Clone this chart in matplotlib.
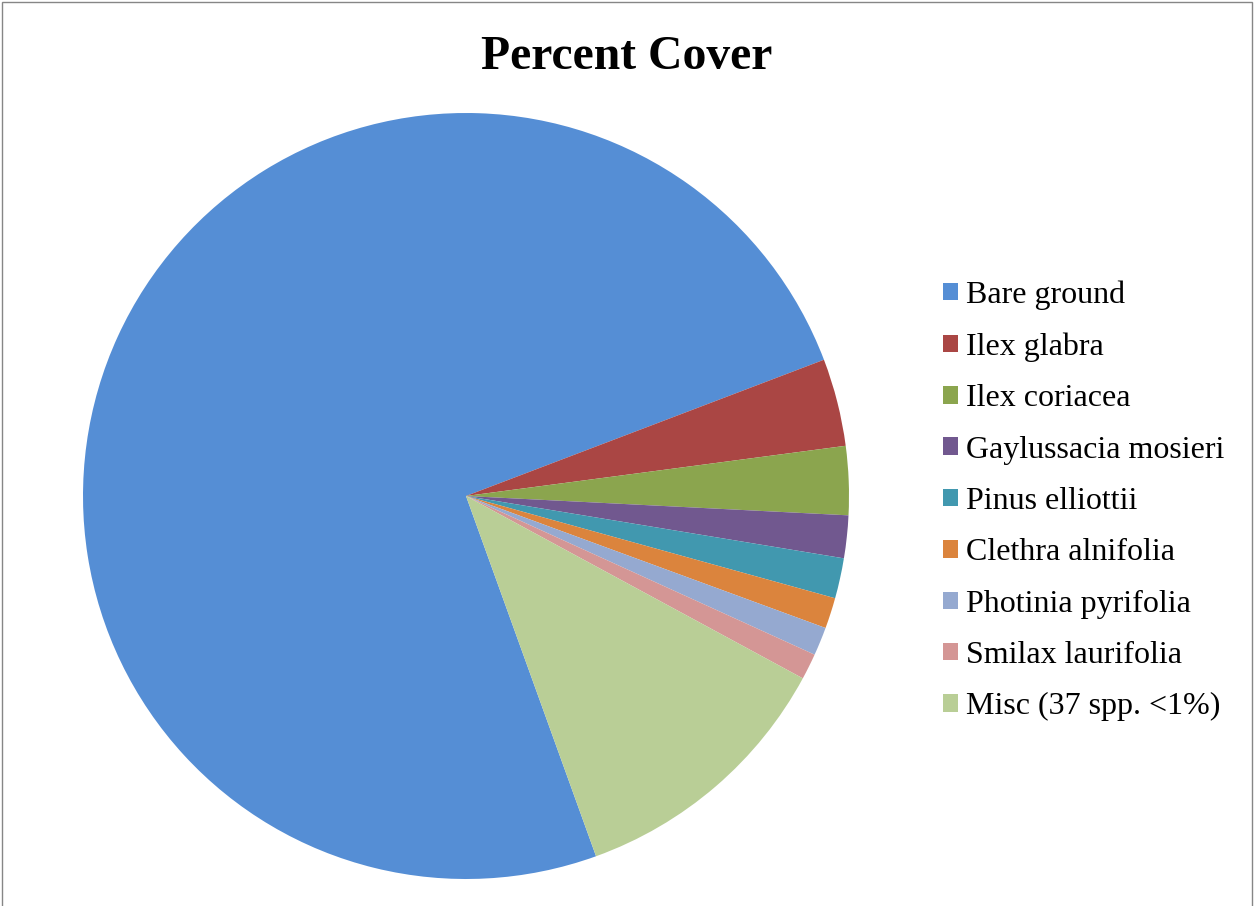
import matplotlib.pyplot as plt
from matplotlib.patches import Patch, Rectangle

plt.rcParams["font.family"] = ["Liberation Serif", "DejaVu Serif"]

# Percent cover by category
labels = [
    "Bare ground",
    "Ilex glabra",
    "Ilex coriacea",
    "Gaylussacia mosieri",
    "Pinus elliottii",
    "Clethra alnifolia",
    "Photinia pyrifolia",
    "Smilax laurifolia",
    "Misc (37 spp. <1%)",
]
cover = [74.8, 3.7, 2.9, 1.8, 1.7, 1.3, 1.2, 1.1, 11.6]
colors = [
    "#558ED5",
    "#AA4644",
    "#8BA54E",
    "#71588F",
    "#4198AF",
    "#DB843D",
    "#95A9D0",
    "#D49695",
    "#B9CE96",
]

W, H = 1254, 906
fig = plt.figure(figsize=(W / 100, H / 100), dpi=100)

# pie placed in pixel coordinates: center (466, 496 from top), radius 383
cx, cy, r = 466, H - 496, 383
ax = fig.add_axes([(cx - r) / W, (cy - r) / H, 2 * r / W, 2 * r / H])
ax.pie(
    cover,
    colors=colors,
    startangle=-70.15,
    counterclock=False,
    radius=1,
    wedgeprops=dict(linewidth=0),
)
ax.set_xlim(-1, 1)
ax.set_ylim(-1, 1)
ax.set_aspect("equal")
ax.axis("off")

fig.text(0.5, 1 - 57 / H, "Percent Cover", ha="center", va="center",
         fontsize=34.3, fontweight="bold")

handles = [Patch(facecolor=c, edgecolor="none") for c in colors]
fig.legend(
    handles,
    labels,
    loc="center left",
    bbox_to_anchor=(943 / W, 1 - 501 / H),
    frameon=False,
    fontsize=23,
    handlelength=0.47,
    handleheight=0.47,
    handletextpad=0.25,
    labelspacing=0.70,
    borderpad=0,
    borderaxespad=0,
)

# chart area outline
fig.patches.append(Rectangle((2 / W, -0.01), (W - 4) / W, 1.01 - 2 / H,
                             transform=fig.transFigure, fill=False,
                             edgecolor="#868686", linewidth=1))

fig.savefig("out.png", dpi=100)
